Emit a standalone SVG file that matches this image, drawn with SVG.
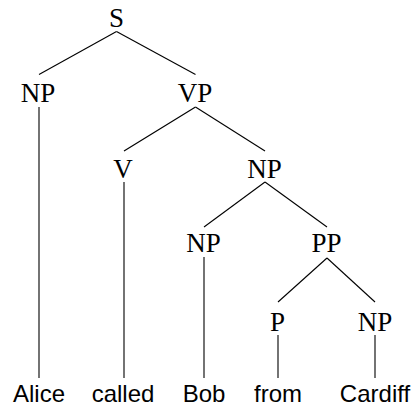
<svg xmlns="http://www.w3.org/2000/svg" width="414" height="410" viewBox="0 0 414 410">
  <style>
    .cat { font-family: "Liberation Serif", "DejaVu Serif", serif; font-size: 27px; fill: #000; text-anchor: middle; }
    .word { font-family: "Liberation Sans", "DejaVu Sans", sans-serif; font-size: 24px; fill: #000; text-anchor: middle; }
    .edges line { stroke: #000; stroke-width: 1.1; stroke-linecap: butt; }
  </style>
  <rect width="414" height="410" fill="#fff"/>

  <!-- tree edges -->
  <g id="edges" class="edges">
    <line x1="116.5" y1="31.5" x2="39" y2="74.5"/>
    <line x1="116.5" y1="31.5" x2="195.5" y2="74.5"/>
    <line x1="195.5" y1="107" x2="124" y2="151"/>
    <line x1="195.5" y1="107" x2="265" y2="151"/>
    <line x1="265" y1="182" x2="204" y2="227"/>
    <line x1="265" y1="182" x2="327" y2="227"/>
    <line x1="327" y1="258" x2="278" y2="302"/>
    <line x1="327" y1="258" x2="375" y2="302"/>
    <line x1="39" y1="107" x2="39" y2="378"/>
    <line x1="124" y1="182" x2="124" y2="378"/>
    <line x1="204" y1="257" x2="204" y2="378"/>
    <line x1="278" y1="335" x2="278" y2="378"/>
    <line x1="375" y1="335" x2="375" y2="378"/>
  </g>

  <!-- phrase categories -->
  <g id="node-S"><text class="cat" x="116.5" y="26.5">S</text></g>
  <g id="node-NP-subj"><text class="cat" x="38" y="102">NP</text></g>
  <g id="node-VP"><text class="cat" x="195" y="102">VP</text></g>
  <g id="node-V"><text class="cat" x="123" y="178">V</text></g>
  <g id="node-NP-obj"><text class="cat" x="264.5" y="178">NP</text></g>
  <g id="node-NP-bob"><text class="cat" x="203.5" y="252">NP</text></g>
  <g id="node-PP"><text class="cat" x="326.5" y="252">PP</text></g>
  <g id="node-P"><text class="cat" x="277.5" y="331">P</text></g>
  <g id="node-NP-cardiff"><text class="cat" x="375" y="331">NP</text></g>

  <!-- words -->
  <g id="leaf-alice"><text class="word" x="39" y="402">Alice</text></g>
  <g id="leaf-called"><text class="word" x="123" y="402">called</text></g>
  <g id="leaf-bob"><text class="word" x="204" y="402">Bob</text></g>
  <g id="leaf-from"><text class="word" x="278" y="402">from</text></g>
  <g id="leaf-cardiff"><text class="word" x="375" y="402">Cardiff</text></g>
</svg>
